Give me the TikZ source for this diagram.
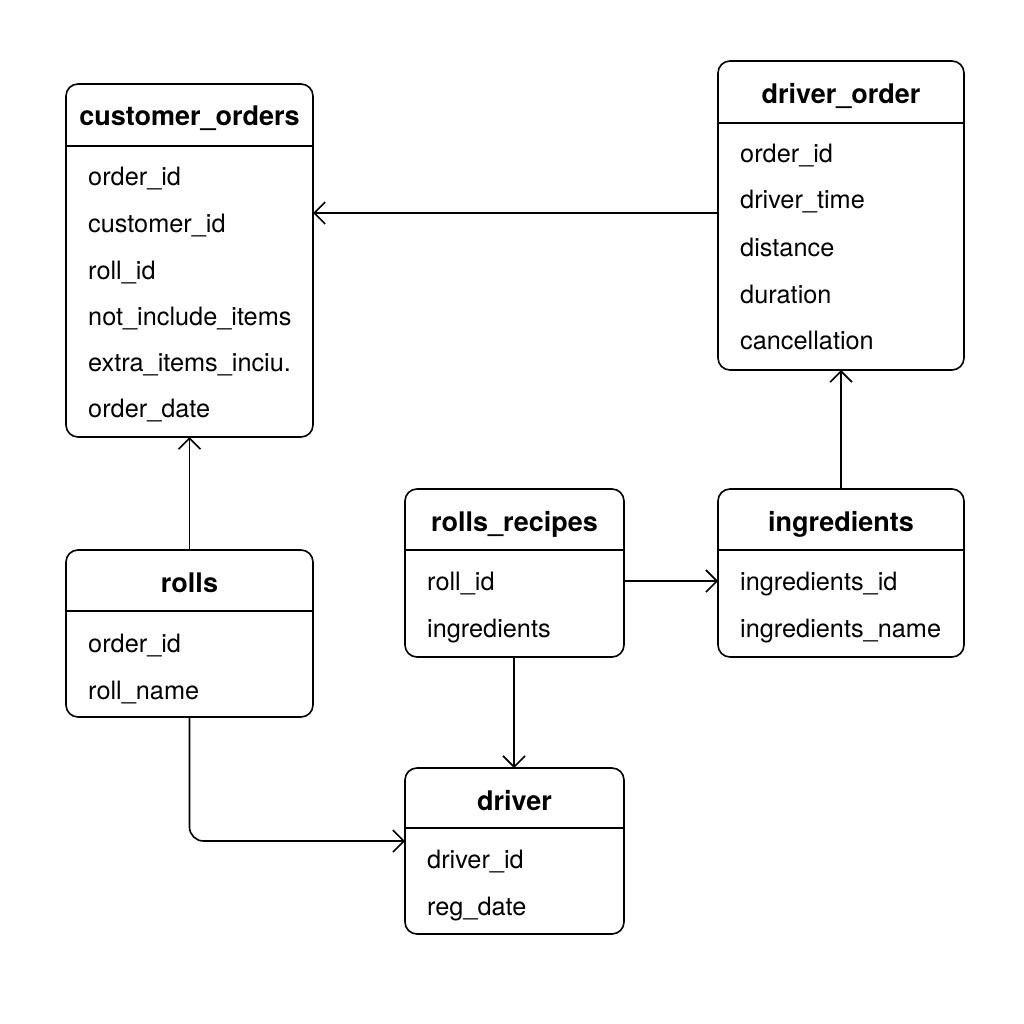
\documentclass[tikz,border=0pt]{standalone}
\usepackage{fontspec}
\setmainfont{TeX Gyre Heros}
\usetikzlibrary{arrows.meta,calc}
\begin{document}
\begin{tikzpicture}[x=1pt,y=-1pt,
  tbl/.style={draw, line width=1.6pt, rounded corners=12pt, inner sep=0pt, outer sep=0pt, anchor=north west},
  ttl/.style={font=\bfseries\fontsize{27}{31}\selectfont, anchor=base, inner sep=0pt},
  fld/.style={font=\fontsize{25.3}{29}\selectfont, anchor=base west, inner sep=0pt},
  sep/.style={line width=1.2pt},
  link/.style={-{Straight Barb[length=11pt,width=22pt,line width=1.6pt]}, line width=1.6pt}]
\useasboundingbox[fill=white] (0,0) rectangle (1024,1024);

% customer_orders
\node[tbl, minimum width=247pt, minimum height=353pt] (co) at (66,84) {};
\node[ttl] (cot) at (189.5,126) {customer\_orders};
\draw[sep] (co.west |- 0,146) coordinate (cosl) -- (co.east |- cosl);
\node[fld] (co1) at (88,186) {order\_id};
\node[fld] (co2) at (88,233) {customer\_id};
\node[fld] (co3) at (88,279) {roll\_id};
\node[fld] (co4) at (88,325) {not\_include\_items};
\node[fld] (co5) at (88,371) {extra\_items\_inciu.};
\node[fld] (co6) at (88,417) {order\_date};

% driver_order
\node[tbl, minimum width=246pt, minimum height=309pt] (do) at (718,61) {};
\node[ttl] (dot) at (841,104) {driver\_order};
\draw[sep] (do.west |- 0,123) coordinate (dosl) -- (do.east |- dosl);
\node[fld] (do1) at (740,163) {order\_id};
\node[fld] (do2) at (740,209) {driver\_time};
\node[fld] (do3) at (740,256) {distance};
\node[fld] (do4) at (740,303) {duration};
\node[fld] (do5) at (740,349) {cancellation};

% rolls
\node[tbl, minimum width=247pt, minimum height=167pt] (ro) at (66,550) {};
\node[ttl] (rot) at (189.5,592) {rolls};
\draw[sep] (ro.west |- 0,611) coordinate (rosl) -- (ro.east |- rosl);
\node[fld] (ro1) at (88,652) {order\_id};
\node[fld] (ro2) at (88,699) {roll\_name};

% rolls_recipes
\node[tbl, minimum width=219pt, minimum height=168pt] (rr) at (405,489) {};
\node[ttl] (rrt) at (514.5,531) {rolls\_recipes};
\draw[sep] (rr.west |- 0,550) coordinate (rrsl) -- (rr.east |- rrsl);
\node[fld] (rr1) at (427,590) {roll\_id};
\node[fld] (rr2) at (427,637) {ingredients};

% ingredients
\node[tbl, minimum width=246pt, minimum height=168pt] (ing) at (718,489) {};
\node[ttl] (ingt) at (841,531) {ingredients};
\draw[sep] (ing.west |- 0,550) coordinate (ingsl) -- (ing.east |- ingsl);
\node[fld] (ing1) at (740,590) {ingredients\_id};
\node[fld] (ing2) at (740,637) {ingredients\_name};

% driver
\node[tbl, minimum width=219pt, minimum height=166pt] (dr) at (405,768) {};
\node[ttl] (drt) at (514.5,810) {driver};
\draw[sep] (dr.west |- 0,828) coordinate (drsl) -- (dr.east |- drsl);
\node[fld] (dr1) at (427,868) {driver\_id};
\node[fld] (dr2) at (427,915) {reg\_date};

% connectors
\coordinate (a1) at ($(do.west)+(0,-2.5)$);
\draw[link] (a1) -- (co.east |- a1);
\draw[link] (ro.north) -- (co.south);
\draw[link] (ing.north) -- (do.south);
\coordinate (a2) at ($(rr.east)+(0,8)$);
\draw[link] (a2) -- (ing.west |- a2);
\coordinate (a4) at ($(rr.south)+(-0.5,0)$);
\draw[link] (a4) -- (dr.north -| a4);
\coordinate (a3) at ($(dr.west)+(0,-10)$);
\draw[link, rounded corners=14pt] (ro.south) |- (a3);
\end{tikzpicture}
\end{document}
